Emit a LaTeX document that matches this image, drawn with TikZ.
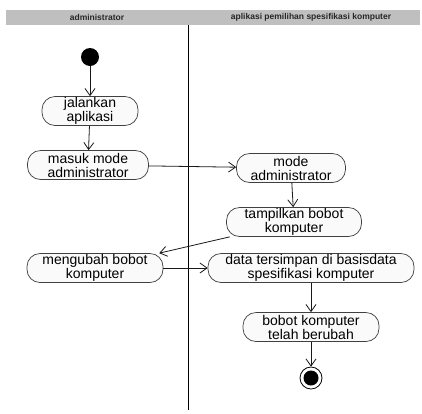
\documentclass[tikz,border=0pt]{standalone}
\usepackage{fontspec}
\setmainfont{Liberation Sans}
\usetikzlibrary{arrows.meta}

\begin{document}
\begin{tikzpicture}[
    x=1pt, y=-1pt,
    lane/.style={font=\fontsize{8.5}{10}\selectfont\bfseries, text=black!85},
    act/.style={draw=black!75, fill=black!2, line width=0.7pt, rectangle, rounded corners=13pt, minimum height=29pt, inner sep=0pt, align=center, font=\fontsize{14}{14}\selectfont},
    startnode/.style={circle, fill=black, minimum size=18pt, inner sep=0pt},
    endnode/.style={circle, draw=black, fill=white, line width=0.8pt, minimum size=22pt, inner sep=0pt, path picture={\fill[black] (path picture bounding box.center) circle (7.5pt);}},
    arrow/.style={-{Straight Barb[length=7pt,width=10pt]}, line width=0.8pt, black!90}
]
    \useasboundingbox (0,0) rectangle (422,413);

    % Swimlanes
    \fill[black!25] (6,10) rectangle (420,25);
    \node[lane] (laneadmin) at (97,17.5) {administrator};
    \node[lane] (laneapp) at (311,17.5) {aplikasi pemilihan spesifikasi komputer};
    \draw[line width=0.8pt] (188,25) -- (188,410);

    % Administrator
    \node[startnode] (start) at (90,57) {};
    \node[act, minimum width=96pt] (jalankan) at (90,111) {jalankan\\aplikasi};
    \node[act, minimum width=121pt] (masuk) at (88,165) {masuk mode\\administrator};
    \node[act, minimum width=136pt] (ubah) at (95,268) {mengubah bobot\\komputer};

    % Aplikasi
    \node[act, minimum width=109pt] (mode) at (291,168) {mode\\administrator};
    \node[act, minimum width=135pt] (tampil) at (294,222) {tampilkan bobot\\komputer};
    \node[act, minimum width=206pt] (simpan) at (311,268) {data tersimpan di basisdata\\spesifikasi komputer};
    \node[act, minimum width=136pt] (berubah) at (311,327) {bobot komputer\\telah berubah};
    \node[endnode] (stop) at (311,378) {};

    % Arrows
    \draw[arrow] (start) -- (jalankan);
    \draw[arrow] (jalankan) -- (masuk);
    \draw[arrow] (masuk) -- (mode);
    \draw[arrow] (mode) -- (tampil);
    \draw[arrow] (tampil) -- (ubah);
    \draw[arrow] (ubah) -- (simpan);
    \draw[arrow] (simpan) -- (berubah);
    \draw[arrow] (berubah) -- (stop);

\end{tikzpicture}
\end{document}
